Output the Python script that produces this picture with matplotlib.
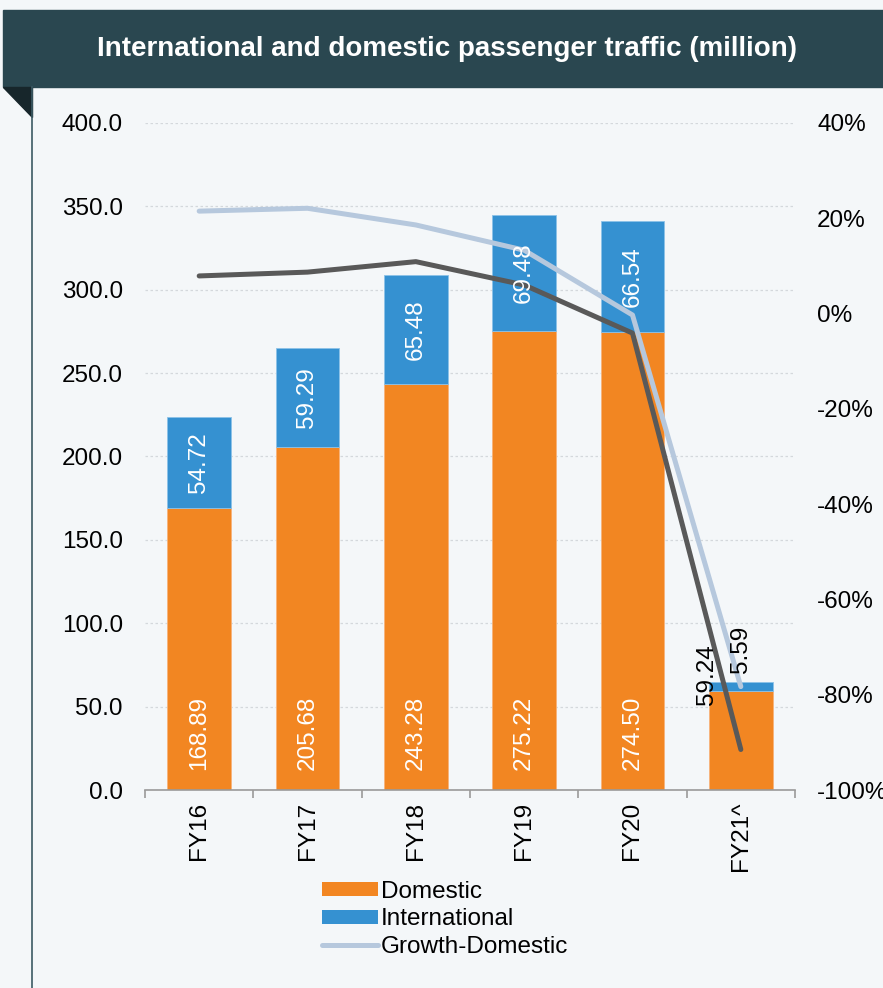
import numpy as np
import matplotlib
matplotlib.use("Agg")
import matplotlib.pyplot as plt
from matplotlib.patches import Rectangle, Polygon, Patch
from matplotlib.lines import Line2D

plt.rcParams['font.family'] = ['Liberation Sans', 'DejaVu Sans']

# data
years = ['FY16', 'FY17', 'FY18', 'FY19', 'FY20', 'FY21^']
domestic = [168.89, 205.68, 243.28, 275.22, 274.50, 59.24]
international = [54.72, 59.29, 65.48, 69.48, 66.54, 5.59]
growth_domestic = [21.5, 22.1, 18.6, 13.3, -0.3, -78.3]
growth_total = [7.9, 8.7, 10.9, 6.0, -4.1, -91.5]

BG = '#f4f7f9'
ORANGE = '#f28622'
BLUE = '#3591d1'
LIGHT = '#b6c8dd'
DARK = '#595959'
FS = 17.5

fig = plt.figure(figsize=(8.83, 9.88), dpi=100, facecolor=BG)

# header band + decoration
W, H = 883.0, 988.0
fig.patches.append(Rectangle((3 / W, 1 - 87 / H), 1 - 3 / W, 77 / H,
                             transform=fig.transFigure, color='#2a4750', zorder=0))
fig.patches.append(Polygon([(3 / W, 1 - 87 / H), (32 / W, 1 - 87 / H), (32 / W, 1 - 117 / H)],
                           closed=True, transform=fig.transFigure, color='#17262b', zorder=0))
fig.lines.append(Line2D([32 / W, 32 / W], [0, 1 - 87 / H], transform=fig.transFigure,
                        color='#3c5a64', lw=1.2))
fig.text(447 / W, 1 - 49 / H, 'International and domestic passenger traffic (million)',
         ha='center', va='center', color='white', fontsize=20, fontweight='bold')

ax = fig.add_axes([145 / W, 1 - 790 / H, 650 / W, 667 / H])
ax.set_facecolor('none')
x = np.arange(len(years))
width = 0.59

ax.bar(x, domestic, width, color=ORANGE, edgecolor='#f7b37a', linewidth=0.6, zorder=2)
ax.bar(x, international, width, bottom=domestic, color=BLUE, edgecolor='#8cc2e8',
       linewidth=0.6, zorder=2)

ax.set_xlim(-0.5, len(years) - 0.5)
ax.set_ylim(0, 400)
ax.set_yticks(np.arange(0, 401, 50))
ax.set_yticklabels([f'{v:.1f}' for v in np.arange(0, 401, 50)], fontsize=FS)
ax.tick_params(axis='y', length=0, pad=16)
ax.grid(True, axis='y', color='#d4d8dc', linestyle=(0, (2, 2)), linewidth=0.9, zorder=0)
ax.set_axisbelow(True)

ax.set_xticks(x)
ax.set_xticklabels(years, rotation=90, fontsize=FS)
ax.tick_params(axis='x', length=0, pad=8.5)
ax.set_xticks(np.arange(-0.5, len(years)), minor=True)
ax.tick_params(axis='x', which='minor', length=6, color='#9a9a9a', width=1.2)
for s in ['top', 'right', 'left']:
    ax.spines[s].set_visible(False)
ax.spines['bottom'].set_color('#9a9a9a')
ax.spines['bottom'].set_linewidth(1.2)

# growth lines on right axis
ax2 = ax.twinx()
ax2.set_ylim(-100, 40)
ax2.set_yticks(np.arange(-100, 41, 20))
ax2.set_yticklabels([f'{v:.0f}%' for v in np.arange(-100, 41, 20)], fontsize=FS)
ax2.tick_params(axis='y', length=0, pad=16)
for s in ax2.spines.values():
    s.set_visible(False)
ax2.plot(x, growth_total, color=DARK, lw=3.6, solid_capstyle='round', zorder=3)
ax2.plot(x, growth_domestic, color=LIGHT, lw=3.6, solid_capstyle='round', zorder=3)

# value labels (drawn on top of the lines, in bar data coords)
for i in range(len(years) - 1):
    ax2.text(x[i], 12, f'{domestic[i]:.2f}', rotation=90, ha='center', va='bottom',
             color='white', fontsize=FS, zorder=5, transform=ax.transData)
    ax2.text(x[i], domestic[i] + international[i] / 2, f'{international[i]:.2f}', rotation=90,
             ha='center', va='center', color='white', fontsize=FS, zorder=5,
             transform=ax.transData)
last = len(years) - 1
ax2.text(x[last] - 0.31, domestic[last] - 8, f'{domestic[last]:.2f}', rotation=90,
         ha='center', va='bottom', color='black', fontsize=FS, zorder=5, transform=ax.transData)
ax2.text(x[last], domestic[last] + international[last] + 5.5, f'{international[last]:.2f}',
         rotation=90, ha='center', va='bottom', color='black', fontsize=FS, zorder=5,
         transform=ax.transData)

handles = [Patch(facecolor=ORANGE, edgecolor='none', label='Domestic'),
           Patch(facecolor=BLUE, edgecolor='none', label='International'),
           Line2D([0], [0], color=LIGHT, lw=3.6, solid_capstyle='round', label='Growth-Domestic')]
fig.legend(handles=handles, loc='upper left', bbox_to_anchor=(322 / W, 1 - 881 / H),
           frameon=False, fontsize=FS, handlelength=2.3, handleheight=0.5,
           handletextpad=0.12, labelspacing=0.22, borderpad=0, borderaxespad=0)

fig.savefig('out.png', dpi=100, facecolor=BG)
